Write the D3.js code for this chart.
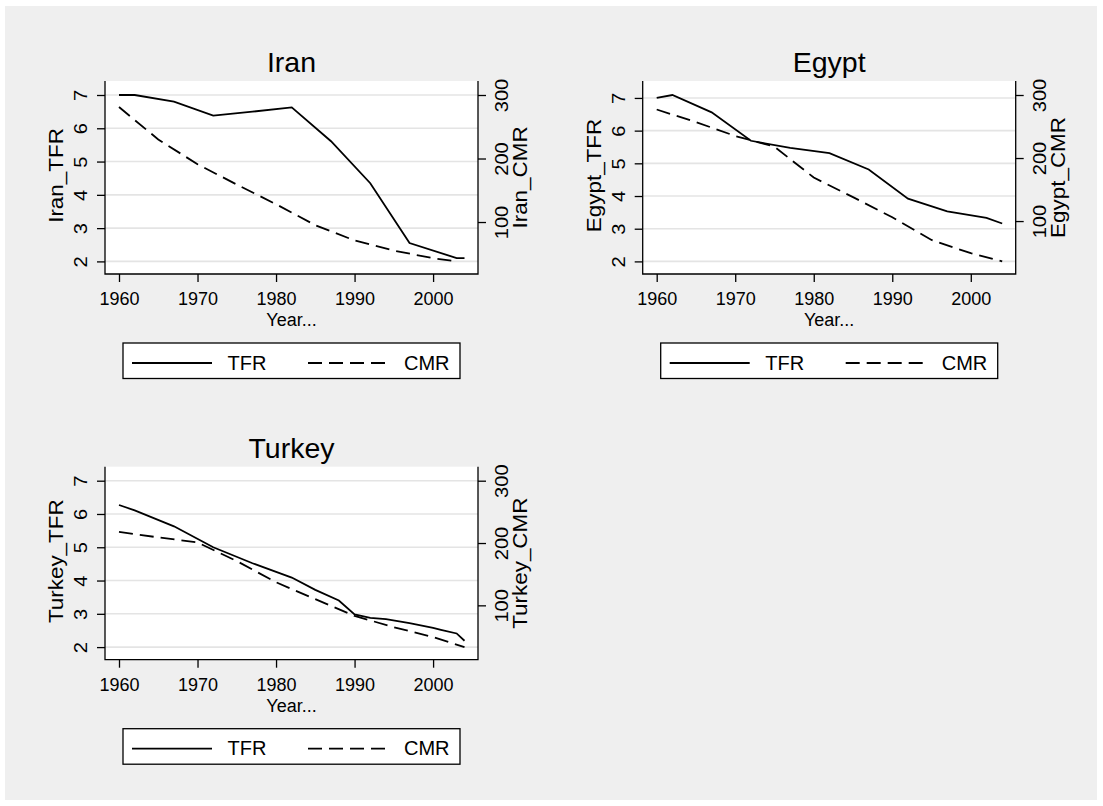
<!DOCTYPE html>
<html>
<head>
<meta charset="utf-8">
<script src="https://cdn.jsdelivr.net/npm/d3@7"></script>
<style>
  body { margin: 0; background: #fff; }
  text { font-family: "Liberation Sans", Arial, sans-serif; fill: #000; }
</style>
</head>
<body>
<svg id="chart"></svg>
<script>
// tick labels
var tickYears = [1960, 1970, 1980, 1990, 2000];
var tfrTicks = [2, 3, 4, 5, 6, 7];
var cmrTicks = [100, 200, 300];

// Iran
var iranTfrYears = [1960, 1962, 1967, 1972, 1977, 1982, 1987, 1992, 1997, 2003, 2004];
var iranTfr = [7.0, 7.0, 6.8, 6.38, 6.5, 6.63, 5.61, 4.35, 2.55, 2.1, 2.1];
var iranCmrYears = [1960, 1965, 1970, 1975, 1980, 1985, 1990, 1995, 2000, 2003];
var iranCmr = [281, 230, 191, 159, 128, 95, 71, 55, 43, 38];

// Egypt
var egyptTfrYears = [1960, 1962, 1967, 1972, 1977, 1982, 1987, 1992, 1997, 2002, 2004];
var egyptTfr = [7.0, 7.09, 6.56, 5.69, 5.47, 5.31, 4.81, 3.92, 3.53, 3.33, 3.16];
var egyptCmrYears = [1960, 1965, 1970, 1975, 1980, 1985, 1990, 1995, 2000, 2004];
var egyptCmr = [277, 257, 235, 218, 169, 138, 106, 70, 49, 36];

// Turkey
var turkeyTfrYears = [1960, 1962, 1967, 1972, 1977, 1982, 1985, 1988, 1990, 1992, 1994, 1997, 2000, 2001, 2003, 2004];
var turkeyTfr = [6.27, 6.11, 5.63, 5.0, 4.52, 4.09, 3.72, 3.4, 2.98, 2.88, 2.84, 2.72, 2.58, 2.52, 2.41, 2.19];
var turkeyCmrYears = [1960, 1965, 1970, 1975, 1980, 1985, 1990, 1995, 2000, 2004];
var turkeyCmr = [218, 209, 201, 171, 137, 110, 83, 65, 49, 33];

var panels = [
  {name: "Iran", tfrYears: iranTfrYears, tfr: iranTfr, cmrYears: iranCmrYears, cmr: iranCmr, left: 105, top: 81},
  {name: "Egypt", tfrYears: egyptTfrYears, tfr: egyptTfr, cmrYears: egyptCmrYears, cmr: egyptCmr, left: 642.7, top: 81},
  {name: "Turkey", tfrYears: turkeyTfrYears, tfr: turkeyTfr, cmrYears: turkeyCmrYears, cmr: turkeyCmr, left: 105, top: 466.7}
];

var W = 1103, H = 806;
var pw = 373, ph = 193;   // plot region size
var vStretch = 1.15;       // vertical labels come out wider in the original

var svg = d3.select("#chart").attr("width", W).attr("height", H);
svg.append("rect").attr("x", 5).attr("y", 6).attr("width", 1092).attr("height", 794).attr("fill", "#efefef");

panels.forEach(drawPanel);

function drawPanel(p) {
  var g = svg.append("g").attr("transform", "translate(" + p.left + "," + p.top + ")");

  var x = d3.scaleLinear()
    .domain(d3.extent(p.tfrYears.concat(p.cmrYears, tickYears)))
    .range([14, pw - 13.5]);
  var y = d3.scaleLinear()
    .domain([Math.min(d3.min(tfrTicks), d3.min(p.tfr)), Math.max(d3.max(tfrTicks), d3.max(p.tfr))])
    .range([ph - 12.6, 14]);
  var y2 = d3.scaleLinear()
    .domain([Math.min(d3.min(cmrTicks), d3.min(p.cmr)), Math.max(d3.max(cmrTicks), d3.max(p.cmr))])
    .range([ph - 12.6, 14]);

  g.append("rect").attr("width", pw).attr("height", ph).attr("fill", "#fff");

  g.selectAll("line.grid").data(tfrTicks).enter().append("line")
    .attr("class", "grid")
    .attr("x1", 0).attr("x2", pw)
    .attr("y1", function(d) { return y(d); })
    .attr("y2", function(d) { return y(d); })
    .attr("stroke", "#e4e4e4")
    .attr("stroke-width", 1.6);

  var tfrLine = d3.line().x(function(d) { return x(d[0]); }).y(function(d) { return y(d[1]); });
  var cmrLine = d3.line().x(function(d) { return x(d[0]); }).y(function(d) { return y2(d[1]); });

  g.append("path").datum(d3.zip(p.cmrYears, p.cmr))
    .attr("d", cmrLine).attr("fill", "none").attr("stroke", "#000")
    .attr("stroke-width", 1.8).attr("stroke-dasharray", "14,7");
  g.append("path").datum(d3.zip(p.tfrYears, p.tfr))
    .attr("d", tfrLine).attr("fill", "none").attr("stroke", "#000")
    .attr("stroke-width", 1.8);

  // axes
  var xa = g.append("g").attr("transform", "translate(0," + ph + ")")
    .call(d3.axisBottom(x).tickValues(tickYears).tickSize(8).tickFormat(d3.format("d")));
  xa.selectAll("text").attr("y", 31).attr("dy", null).style("font-size", "18px");

  var ya = g.append("g").call(d3.axisLeft(y).tickValues(tfrTicks).tickSize(8).tickFormat(d3.format("d")));
  ya.selectAll("text").attr("x", null).attr("dy", null)
    .attr("text-anchor", "middle")
    .attr("transform", "translate(-18,0) rotate(-90) scale(" + vStretch + ",1)")
    .style("font-size", "17.5px");

  var ya2 = g.append("g").attr("transform", "translate(" + pw + ",0)")
    .call(d3.axisRight(y2).tickValues(cmrTicks).tickSize(8).tickFormat(d3.format("d")));
  ya2.selectAll("text").attr("x", null).attr("dy", null)
    .attr("text-anchor", "middle")
    .attr("transform", "translate(30,0) rotate(-90) scale(" + vStretch + ",1)")
    .style("font-size", "17.5px");

  [xa, ya, ya2].forEach(function(a) {
    a.select(".domain").remove();
    a.selectAll("line").attr("stroke", "#000").attr("stroke-width", 1.3);
  });

  // frame: left, bottom, right
  g.append("path")
    .attr("d", "M0,0V" + ph + "H" + pw + "V0")
    .attr("fill", "none").attr("stroke", "#000").attr("stroke-width", 1.3);

  // titles
  g.append("text").attr("x", pw / 2).attr("y", -9)
    .attr("text-anchor", "middle").style("font-size", "28.5px").text(p.name);
  g.append("text").attr("x", pw / 2).attr("y", ph + 52)
    .attr("text-anchor", "middle").style("font-size", "18px").text("Year...");
  g.append("text").attr("text-anchor", "middle").style("font-size", "19.5px")
    .attr("transform", "translate(-42," + (ph / 2 - 2) + ") rotate(-90) scale(" + vStretch + ",1)")
    .text(p.name + "_TFR");
  g.append("text").attr("text-anchor", "middle").style("font-size", "19.5px")
    .attr("transform", "translate(" + (pw + 49) + "," + (ph / 2) + ") rotate(-90) scale(" + vStretch + ",1)")
    .text(p.name + "_CMR");

  // legend
  var lw = 337, lh = 35.5;
  var lg = g.append("g").attr("transform", "translate(" + (pw / 2 - lw / 2) + "," + (ph + 69) + ")");
  lg.append("rect").attr("width", lw).attr("height", lh)
    .attr("fill", "#fff").attr("stroke", "#000").attr("stroke-width", 1.3);
  lg.append("line").attr("x1", 9).attr("x2", 89).attr("y1", 20).attr("y2", 20)
    .attr("stroke", "#000").attr("stroke-width", 1.8);
  lg.append("text").attr("x", 104.5).attr("y", 26.5).style("font-size", "20px").text("TFR");
  lg.append("line").attr("x1", 185).attr("x2", 264.5).attr("y1", 20).attr("y2", 20)
    .attr("stroke", "#000").attr("stroke-width", 1.8).attr("stroke-dasharray", "14,7");
  lg.append("text").attr("x", 281).attr("y", 26.5).style("font-size", "20px").text("CMR");
}
</script>
</body>
</html>
